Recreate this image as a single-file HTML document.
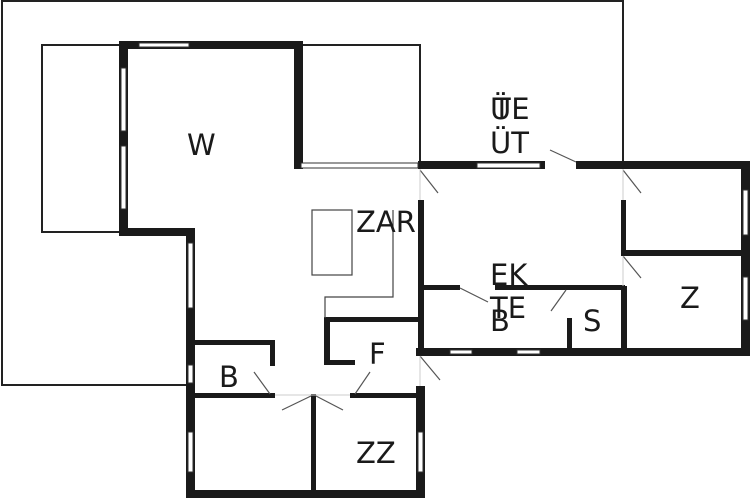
<!DOCTYPE html>
<html><head><meta charset="utf-8"><style>
html,body{margin:0;padding:0;background:#fff;}
svg{display:block}
text{font-family:"DejaVu Sans","Liberation Sans",sans-serif;fill:#1a1a1a;}
</style></head><body>
<svg width="750" height="500" viewBox="0 0 750 500" xmlns="http://www.w3.org/2000/svg">
<rect width="750" height="500" fill="#fff"/>
<polyline points="190,385 2,385 2,1 623,1 623,163" fill="none" stroke="#222" stroke-width="2"/>
<rect x="42" y="45" width="80" height="187" fill="none" stroke="#222" stroke-width="2"/>
<rect x="302" y="45" width="118" height="120" fill="none" stroke="#222" stroke-width="2"/>
<g fill="#1a1a1a">
<rect x="119" y="41" width="184" height="8"/>
<rect x="119" y="41" width="9" height="194"/>
<rect x="294" y="41" width="9" height="128"/>
<rect x="119" y="228" width="76" height="8"/>
<rect x="186" y="228" width="9" height="270"/>
<rect x="418" y="161" width="127" height="8"/>
<rect x="576" y="161" width="174" height="8"/>
<rect x="741" y="161" width="9" height="195"/>
<rect x="418" y="200" width="6" height="156"/>
<rect x="621" y="200" width="5" height="55"/>
<rect x="621" y="250" width="122" height="6"/>
<rect x="621" y="286" width="6" height="70"/>
<rect x="420" y="285" width="40" height="5"/>
<rect x="495" y="285" width="130" height="5"/>
<rect x="567" y="318" width="5" height="34"/>
<rect x="416" y="348" width="334" height="8"/>
<rect x="325" y="317" width="95" height="5"/>
<rect x="324" y="317" width="6" height="48"/>
<rect x="324" y="360" width="31" height="5"/>
<rect x="193" y="340" width="82" height="5"/>
<rect x="270" y="340" width="5" height="26"/>
<rect x="193" y="393" width="82" height="5"/>
<rect x="350" y="393" width="74" height="5"/>
<rect x="311" y="394" width="5" height="104"/>
<rect x="416" y="386" width="9" height="112"/>
<rect x="186" y="490" width="239" height="8"/>
</g>
<g fill="#fff" stroke="#333" stroke-width="1">
<rect x="139" y="43" width="50" height="4"/>
<rect x="121" y="68" width="5" height="63"/>
<rect x="121" y="146" width="5" height="63"/>
<rect x="301" y="163" width="117" height="5"/>
<rect x="477" y="163" width="63" height="5"/>
<rect x="743" y="190" width="5" height="45"/>
<rect x="743" y="277" width="5" height="43"/>
<rect x="450" y="350" width="22" height="4"/>
<rect x="517" y="350" width="23" height="4"/>
<rect x="188" y="243" width="5" height="65"/>
<rect x="188" y="365" width="5" height="18"/>
<rect x="188" y="432" width="5" height="40"/>
<rect x="418" y="432" width="5" height="40"/>
</g>
<rect x="312" y="210" width="40" height="65" fill="none" stroke="#444" stroke-width="1.2"/>
<polyline points="393,210 393,297 325,297 325,318" fill="none" stroke="#444" stroke-width="1.2"/>
<g stroke="#555" stroke-width="1.2" fill="none">
<line x1="420" y1="170" x2="438" y2="193"/>
<line x1="550" y1="150" x2="576" y2="162"/>
<line x1="623" y1="170" x2="641" y2="193"/>
<line x1="623" y1="256" x2="641" y2="278"/>
<line x1="460" y1="288" x2="488" y2="302"/>
<line x1="566" y1="290" x2="551" y2="311"/>
<line x1="420" y1="356" x2="440" y2="380"/>
<line x1="254" y1="372" x2="270" y2="394"/>
<line x1="370" y1="372" x2="355" y2="394"/>
<line x1="282" y1="410" x2="311" y2="396"/>
<line x1="316" y1="396" x2="343" y2="410"/>
</g>
<g stroke="#ccc" stroke-width="1">
<line x1="420" y1="169" x2="420" y2="200"/>
<line x1="623" y1="169" x2="623" y2="200"/>
<line x1="623" y1="256" x2="623" y2="286"/>
<line x1="275" y1="395" x2="350" y2="395"/>
<line x1="420" y1="356" x2="420" y2="386"/>
</g>
<g font-size="29">
<text x="187" y="155">W</text>
<text x="356" y="232">ZAR</text>
<text x="490" y="119">ÜE</text>
<text x="493" y="119">T</text>
<text x="490" y="153">ÜT</text>
<text x="490" y="285">EK</text>
<text x="490" y="318">TE</text>
<text x="490" y="331">B</text>
<text x="583" y="331">S</text>
<text x="680" y="308">Z</text>
<text x="369" y="364">F</text>
<text x="219" y="387">B</text>
<text x="356" y="463">ZZ</text>
</g>
</svg>
</body></html>
